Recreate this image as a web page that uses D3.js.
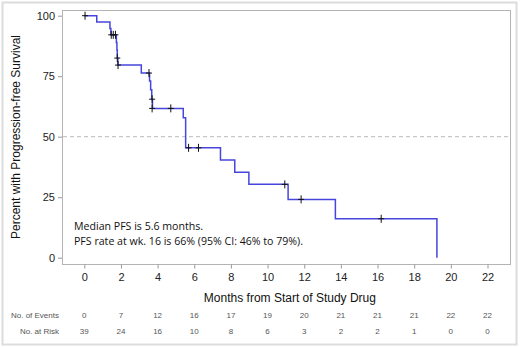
<!DOCTYPE html>
<html>
<head>
<meta charset="utf-8">
<script src="https://cdn.jsdelivr.net/npm/d3@7"></script>
<style>
  body { margin: 0; background: #fff; }
  svg { font-family: "Liberation Sans", Arial, sans-serif; }
</style>
</head>
<body>
<svg id="chart"></svg>
<script>
// step points of the PFS curve: [month, percent]
const kmSteps = [
  [0, 100], [0.68, 97.4], [1.40, 94.7], [1.45, 92.1],
  [1.75, 88.9], [1.78, 85.8], [1.80, 82.5], [1.83, 79.6],
  [3.11, 76.3], [3.56, 73.0], [3.62, 69.4], [3.68, 65.5], [3.72, 61.7],
  [5.40, 57.8], [5.53, 45.4], [7.43, 40.4], [8.21, 35.3], [8.98, 30.3],
  [11.12, 24.1], [13.70, 16.1], [19.24, 0]
];
// censored observations: [month, percent]
const censored = [
  [0.04, 100], [1.47, 92.1], [1.58, 92.1], [1.70, 92.1],
  [1.80, 82.5], [1.84, 79.6], [3.53, 76.3], [3.70, 65.5], [3.70, 61.7],
  [4.72, 61.7], [5.69, 45.4], [6.23, 45.4], [10.94, 30.3], [11.83, 24.1], [16.2, 16.1]
];
const monthTicks = [0, 2, 4, 6, 8, 10, 12, 14, 16, 18, 20, 22];
const percentTicks = [0, 25, 50, 75, 100];
const events = [0, 7, 12, 16, 17, 19, 20, 21, 21, 21, 22, 22];
const atRisk = [39, 24, 16, 10, 8, 6, 3, 2, 2, 1, 0, 0];
const notes = ["Median PFS is 5.6 months.", "PFS rate at wk. 16 is 66% (95% CI: 46% to 79%)."];

const width = 520, height = 348;
const svg = d3.select("#chart").attr("width", width).attr("height", height);

// outer frame
svg.append("rect")
  .attr("x", 2.5).attr("y", 2.5)
  .attr("width", 514).attr("height", 342)
  .attr("fill", "none").attr("stroke", "#dcdcdc").attr("stroke-width", 2);

const plot = { left: 62, top: 10, right: 510, bottom: 264 };

const x = d3.scaleLinear().domain([0, 22]).range([84.3, 487.5]);
const y = d3.scaleLinear().domain([0, 100]).range([257.7, 15.7]);

// plot frame
svg.append("rect")
  .attr("x", plot.left + 0.5).attr("y", plot.top + 0.5)
  .attr("width", plot.right - plot.left).attr("height", plot.bottom - plot.top)
  .attr("fill", "none").attr("stroke", "#b4b4b4");

// y axis
const yAxis = svg.append("g")
  .attr("transform", `translate(${plot.left},0)`)
  .call(d3.axisLeft(y).tickValues(percentTicks).tickSize(4).tickPadding(3));
yAxis.select(".domain").remove();
yAxis.selectAll("line").attr("stroke", "#999");
yAxis.selectAll("text").attr("font-size", 11).attr("fill", "#222")
  .attr("font-family", "Liberation Sans, Arial, sans-serif");

// x axis
const xAxis = svg.append("g")
  .attr("transform", `translate(0,${plot.bottom + 0.5})`)
  .call(d3.axisBottom(x).tickValues(monthTicks).tickSize(4).tickPadding(5));
xAxis.select(".domain").remove();
xAxis.selectAll("line").attr("stroke", "#999");
xAxis.selectAll("text").attr("font-size", 11).attr("fill", "#222")
  .attr("font-family", "Liberation Sans, Arial, sans-serif");

// axis titles
svg.append("text")
  .attr("x", (x(0) + x(22)) / 2 + 4).attr("y", 302)
  .attr("text-anchor", "middle").attr("font-size", 12).attr("fill", "#111")
  .text("Months from Start of Study Drug");

svg.append("text")
  .attr("transform", `translate(20,${(plot.top + plot.bottom) / 2}) rotate(-90)`)
  .attr("text-anchor", "middle").attr("font-size", 12).attr("fill", "#111")
  .text("Percent with Progression-free Survival");

// median reference line
svg.append("line")
  .attr("x1", plot.left + 1).attr("x2", plot.right)
  .attr("y1", y(50)).attr("y2", y(50))
  .attr("stroke", "#bbb").attr("stroke-dasharray", "4,3");

// survival curve
const line = d3.line()
  .x(d => x(d[0])).y(d => y(d[1]))
  .curve(d3.curveStepAfter);
svg.append("path")
  .datum(kmSteps)
  .attr("d", line)
  .attr("fill", "none").attr("stroke", "#4646dc").attr("stroke-width", 1.5);

// censor marks
svg.selectAll(".censor")
  .data(censored)
  .enter().append("line")
    .classed("censor", true)
    .attr("x1", d => x(d[0])).attr("x2", d => x(d[0]))
    .attr("y1", d => y(d[1]) - 4).attr("y2", d => y(d[1]) + 4)
    .attr("stroke", "#111").attr("stroke-width", 1);
svg.selectAll(".censor-h")
  .data(censored)
  .enter().append("line")
    .attr("x1", d => x(d[0]) - 3).attr("x2", d => x(d[0]) + 3)
    .attr("y1", d => y(d[1])).attr("y2", d => y(d[1]))
    .attr("stroke", "#111").attr("stroke-width", 1);

// annotation
svg.selectAll(".note")
  .data(notes)
  .enter().append("text")
    .attr("x", 74).attr("y", (d, i) => 230 + i * 15)
    .attr("font-family", "Open Sans, sans-serif")
    .attr("font-size", 10.6).attr("fill", "#111")
    .text(d => d);

// risk table
const table = [
  { label: "No. of Events", values: events, y: 318 },
  { label: "No. at Risk", values: atRisk, y: 334 }
];
table.forEach(row => {
  svg.append("text")
    .attr("x", 59).attr("y", row.y)
    .attr("text-anchor", "end").attr("font-size", 8).attr("fill", "#555")
    .text(row.label);
  svg.selectAll(null)
    .data(row.values)
    .enter().append("text")
      .attr("x", (d, i) => x(monthTicks[i])).attr("y", row.y)
      .attr("text-anchor", "middle").attr("font-size", 8).attr("fill", "#555")
      .text(d => d);
});
</script>
</body>
</html>
